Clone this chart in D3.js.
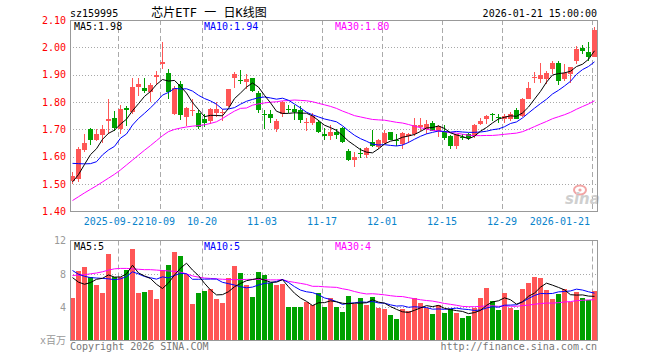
<!DOCTYPE html>
<html><head><meta charset="utf-8">
<script src="https://cdn.jsdelivr.net/npm/d3@7"></script>
<style>body{margin:0;background:#fff}svg{display:block}</style>
</head><body><svg id="c" width="660" height="360"></svg>
<script>
const dates = [
"2025-09-10","2025-09-11","2025-09-12","2025-09-15","2025-09-16","2025-09-17","2025-09-18","2025-09-19",
"2025-09-22","2025-09-23","2025-09-24","2025-09-25","2025-09-26","2025-09-29","2025-09-30",
"2025-10-09","2025-10-10","2025-10-13","2025-10-14","2025-10-15","2025-10-16","2025-10-17","2025-10-20","2025-10-21","2025-10-22","2025-10-23","2025-10-24","2025-10-27","2025-10-28","2025-10-29","2025-10-30","2025-10-31",
"2025-11-03","2025-11-04","2025-11-05","2025-11-06","2025-11-07","2025-11-10","2025-11-11","2025-11-12","2025-11-13","2025-11-14","2025-11-17","2025-11-18","2025-11-19","2025-11-20","2025-11-21","2025-11-24","2025-11-25","2025-11-26","2025-11-27","2025-11-28",
"2025-12-01","2025-12-02","2025-12-03","2025-12-04","2025-12-05","2025-12-08","2025-12-09","2025-12-10","2025-12-11","2025-12-12","2025-12-15","2025-12-16","2025-12-17","2025-12-18","2025-12-19","2025-12-22","2025-12-23","2025-12-24","2025-12-25","2025-12-26","2025-12-29","2025-12-30","2025-12-31",
"2026-01-05","2026-01-06","2026-01-07","2026-01-08","2026-01-09","2026-01-12","2026-01-13","2026-01-14","2026-01-15","2026-01-16","2026-01-19","2026-01-20","2026-01-21"];

const open  = [1.512,1.520,1.624,1.700,1.663,1.679,1.729,1.743,1.702,1.779,1.763,1.856,1.850,1.837,1.893,1.939,1.905,1.755,1.865,1.746,1.767,1.759,1.739,1.731,1.759,1.759,1.785,1.889,1.880,1.873,1.887,1.834,1.755,1.755,1.700,1.755,1.776,1.776,1.771,1.722,1.724,1.728,1.685,1.676,1.690,1.704,1.621,1.588,1.615,1.605,1.654,1.637,1.651,1.690,1.663,1.648,1.676,1.684,1.710,1.700,1.724,1.694,1.691,1.676,1.639,1.672,1.682,1.676,1.721,1.737,1.755,1.746,1.739,1.737,1.770,1.749,1.812,1.888,1.883,1.883,1.920,1.941,1.883,1.901,1.950,1.996,1.983,1.966];
const high  = [1.545,1.636,1.682,1.707,1.702,1.715,1.810,1.767,1.791,1.785,1.889,1.889,1.889,1.869,1.915,2.020,1.920,1.857,1.877,1.781,1.810,1.770,1.755,1.779,1.800,1.773,1.849,1.910,1.916,1.901,1.887,1.840,1.771,1.771,1.739,1.804,1.788,1.791,1.785,1.743,1.759,1.734,1.706,1.718,1.702,1.710,1.629,1.617,1.633,1.637,1.698,1.666,1.698,1.690,1.685,1.691,1.688,1.740,1.740,1.733,1.730,1.718,1.716,1.679,1.684,1.684,1.688,1.721,1.740,1.752,1.759,1.755,1.755,1.763,1.779,1.815,1.873,1.911,1.941,1.913,1.950,1.950,1.938,1.930,2.005,2.009,2.020,2.076];
const low   = [1.500,1.507,1.617,1.644,1.657,1.652,1.682,1.694,1.682,1.712,1.755,1.824,1.832,1.800,1.862,1.920,1.813,1.751,1.734,1.712,1.749,1.700,1.708,1.721,1.746,1.731,1.782,1.852,1.865,1.849,1.837,1.759,1.702,1.724,1.690,1.746,1.761,1.734,1.724,1.694,1.715,1.688,1.663,1.663,1.666,1.649,1.584,1.563,1.596,1.596,1.637,1.630,1.645,1.661,1.640,1.627,1.651,1.676,1.696,1.682,1.694,1.673,1.663,1.627,1.627,1.663,1.663,1.670,1.716,1.721,1.730,1.724,1.722,1.730,1.737,1.746,1.810,1.868,1.871,1.865,1.901,1.861,1.877,1.868,1.938,1.974,1.950,1.964];
const close = [1.528,1.627,1.649,1.661,1.682,1.700,1.737,1.706,1.773,1.771,1.855,1.865,1.840,1.862,1.899,1.946,1.837,1.852,1.751,1.779,1.771,1.710,1.722,1.776,1.776,1.765,1.846,1.901,1.877,1.885,1.840,1.770,1.751,1.740,1.731,1.800,1.771,1.763,1.734,1.728,1.749,1.690,1.676,1.690,1.678,1.654,1.588,1.599,1.611,1.633,1.641,1.661,1.688,1.663,1.657,1.688,1.684,1.716,1.718,1.721,1.696,1.712,1.670,1.639,1.682,1.668,1.670,1.718,1.730,1.749,1.751,1.743,1.749,1.757,1.739,1.813,1.852,1.893,1.899,1.907,1.944,1.877,1.907,1.928,1.993,1.987,1.966,2.063];
const volume = [5.16,8.4,8.88,7.6,6.68,5.76,10.4,7.6,7.68,8.48,11.0,5.76,5.84,6.08,5.04,8.48,9.08,10.64,10.16,8.0,4.4,5.76,6.0,6.16,5.04,4.56,7.52,8.96,8.16,6.68,5.28,8.28,7.88,6.88,6.68,6.8,4.0,4.0,4.0,4.68,4.28,5.68,4.08,5.08,4.08,3.44,5.36,4.44,5.12,4.28,5.24,3.96,3.8,3.08,2.6,3.8,3.56,5.08,4.52,3.96,3.2,4.28,3.32,3.8,3.32,2.72,2.96,3.96,5.12,6.32,4.76,3.68,5.72,3.96,3.68,6.2,6.96,7.64,7.52,6.08,5.0,5.6,6.16,4.64,5.84,5.12,4.88,6.0];

// moving-average values for the days whose window starts before the first visible day
const ma5Head  = [1.508,1.535,1.572,1.608];
const ma10Head = [1.576,1.575,1.574,1.575,1.582,1.607,1.625,1.638,1.668];
const ma30Head = [1.440,1.454,1.468,1.481,1.494,1.508,1.522,1.536,1.552,1.570,1.588,1.606,1.624,1.641,1.659,1.677,1.692,1.700,1.705,1.709,1.712,1.714,1.717,1.722,1.728,1.740,1.754,1.767,1.777];
const volMa5Head  = [7.55,7.0,6.75,6.95];
const volMa10Head = [8.4,7.95,7.7,7.55,7.5,7.45,7.4,7.3,7.4];
const volMa30Head = [7.8,7.85,7.9,8.0,8.1,8.25,8.45,8.6,8.65,8.65,8.6,8.55,8.5,8.5,8.45,8.4,8.35,8.3,8.2,8.0,7.75,7.6,7.5,7.45,7.4,7.35,7.32,7.3,7.3];

const priceTicks = [1.40,1.50,1.60,1.70,1.80,1.90,2.00,2.10];
const volTicks = [4,8,12];
const tickDates  = ["2025-09-22","2025-10-09","2025-10-20","2025-11-03","2025-11-17","2025-12-01","2025-12-15","2025-12-29","2026-01-21"];
const tickLabels = ["2025-09-22","10-09","10-20","11-03","11-17","12-01","12-15","12-29","2026-01-21"];

const RED = "#ff5656", GREEN = "#00a000";
const MONO = "'DejaVu Sans Mono', monospace";

function movingAvg(arr, n, head) {
  return arr.map((v, i) => i < n - 1 ? head[i] : d3.mean(arr.slice(i - n + 1, i + 1)));
}
const ma5 = movingAvg(close, 5, ma5Head), ma10 = movingAvg(close, 10, ma10Head), ma30 = movingAvg(close, 30, ma30Head);
const vma5 = movingAvg(volume, 5, volMa5Head), vma10 = movingAvg(volume, 10, volMa10Head), vma30 = movingAvg(volume, 30, volMa30Head);

const L = 70, R = 597, PT = 20, PB = 211.5, VT = 240.5, VB = 340.5;
const svg = d3.select("#c");
svg.append("rect").attr("width", 660).attr("height", 360).attr("fill", "#fff");

const idx = d3.range(dates.length);
const x = d3.scaleBand().domain(idx).range([L, L + 6 * dates.length]).padding(0);
const yP = d3.scaleLinear().domain([1.40, 2.10]).range([PB, PT]);
const yV = d3.scaleLinear().domain([0, 12]).range([VB, VT]);
const tickIdx = tickDates.map(d => dates.indexOf(d));

// grids
const g = svg.append("g");
g.selectAll(".hp").data(priceTicks.slice(1, -1)).join("line")
  .attr("x1", L).attr("x2", R).attr("y1", d => Math.round(yP(d)) + 0.5).attr("y2", d => Math.round(yP(d)) + 0.5)
  .attr("stroke", "#a8a8a8").attr("stroke-dasharray", "1,2");
g.selectAll(".hv").data(volTicks.slice(0, -1)).join("line")
  .attr("x1", L).attr("x2", R).attr("y1", d => Math.round(yV(d)) + 0.5).attr("y2", d => Math.round(yV(d)) + 0.5)
  .attr("stroke", "#a8a8a8").attr("stroke-dasharray", "1,2");
[[PT, PB], [VT, VB]].forEach(([a, b]) => {
  g.selectAll(null).data(tickIdx).join("line")
    .attr("x1", d => x(d) + 0.5).attr("x2", d => x(d) + 0.5).attr("y1", a).attr("y2", b)
    .attr("stroke", "#aaa").attr("stroke-dasharray", "5,3");
});

// watermark
const wm = svg.append("g");
wm.append("ellipse").attr("cx", 580).attr("cy", 190).attr("rx", 6).attr("ry", 4.5).attr("fill", "none").attr("stroke", "#f2a5a5").attr("stroke-width", 2);
wm.append("circle").attr("cx", 580).attr("cy", 190).attr("r", 1.6).attr("fill", "#f2a5a5");
wm.append("text").attr("x", 565).attr("y", 204).text("sina")
  .attr("font-family", "'DejaVu Sans', sans-serif").attr("font-style", "italic").attr("font-weight", "bold")
  .attr("font-size", 15).attr("fill", "#cfcfcf");

// candles
const up = i => close[i] >= open[i];
const cg = svg.append("g").attr("shape-rendering", "crispEdges");
cg.selectAll(".wick").data(idx).join("rect")
  .attr("x", i => x(i) + 2).attr("width", 1)
  .attr("y", i => yP(high[i])).attr("height", i => Math.max(1, yP(low[i]) - yP(high[i])))
  .attr("fill", i => up(i) ? RED : GREEN);
cg.selectAll(".body").data(idx).join("rect")
  .attr("x", i => x(i)).attr("width", 5)
  .attr("y", i => yP(Math.max(open[i], close[i])))
  .attr("height", i => Math.max(1, Math.abs(yP(open[i]) - yP(close[i]))))
  .attr("fill", i => up(i) ? RED : GREEN);

// volume bars
cg.selectAll(".vol").data(idx).join("rect")
  .attr("x", i => x(i)).attr("width", 5)
  .attr("y", i => yV(volume[i])).attr("height", i => yV(0) - yV(volume[i]))
  .attr("fill", i => up(i) ? RED : GREEN);

// MA lines
function drawLine(vals, ys, color) {
  svg.append("path").datum(idx)
    .attr("d", d3.line().x(i => x(i) + 2.5).y(i => ys(vals[i])))
    .attr("fill", "none").attr("stroke", color).attr("stroke-width", 1);
}
drawLine(ma30, yP, "#ff00ff"); drawLine(ma10, yP, "#0000ff"); drawLine(ma5, yP, "#000");
drawLine(vma30, yV, "#ff00ff"); drawLine(vma10, yV, "#0000ff"); drawLine(vma5, yV, "#000");

// frames
svg.append("rect").attr("x", L + 0.5).attr("y", PT + 0.5).attr("width", R - L).attr("height", PB - PT - 0.5)
  .attr("fill", "none").attr("stroke", "#999");
svg.append("rect").attr("x", L + 0.5).attr("y", VT).attr("width", R - L).attr("height", VB - VT)
  .attr("fill", "none").attr("stroke", "#999");

// axes
const ay = svg.append("g").attr("transform", `translate(${L},0)`)
  .call(d3.axisLeft(yP).tickValues(priceTicks).tickFormat(d3.format(".2f")).tickSize(0).tickPadding(4));
ay.select(".domain").remove();
ay.selectAll("text").attr("fill", "#ff0000").attr("font-family", MONO).attr("font-size", 10);
const av = svg.append("g").attr("transform", `translate(${L},0)`)
  .call(d3.axisLeft(yV).tickValues(volTicks).tickFormat(d3.format("d")).tickSize(0).tickPadding(4));
av.select(".domain").remove();
av.selectAll("text").attr("fill", "#999").attr("font-family", MONO).attr("font-size", 10);

// date labels: centred on their grid line, kept inside the frame and clear of the next label
const xl = svg.append("g").selectAll("text").data(tickIdx).join("text")
  .attr("y", 225).text((d, k) => tickLabels[k])
  .attr("fill", "#0a84cc").attr("font-family", MONO).attr("font-size", 10).attr("text-anchor", "start");
const widths = xl.nodes().map(n => n.getComputedTextLength());
const lefts = tickIdx.map((d, k) => x(d) - widths[k] / 2);
for (let k = lefts.length - 1; k >= 0; k--) {
  const maxRight = k === lefts.length - 1 ? R - 7 : lefts[k + 1] - 1;
  if (lefts[k] + widths[k] > maxRight) lefts[k] = maxRight - widths[k];
}
xl.attr("x", (d, k) => lefts[k]);

// texts
const fl = v => (Math.floor(v * 100 + 1e-9) / 100).toFixed(2);
const last = dates.length - 1;
function txt(xp, yp, s, color, anchor, size, fam) {
  svg.append("text").attr("x", xp).attr("y", yp).text(s).attr("fill", color)
    .attr("text-anchor", anchor || "start").attr("font-size", size || 10).attr("font-family", fam || MONO);
}
txt(70, 16.5, "sz159995", "#000");
txt(209, 16.5, "芯片ETF 一 日K线图", "#000", "middle", 12, "'DejaVu Sans Mono','Noto Sans CJK SC',sans-serif");
txt(597, 16.5, "2026-01-21 15:00:00", "#000", "end");
txt(74, 29.5, "MA5:" + fl(ma5[last]), "#000");
txt(204, 29.5, "MA10:" + fl(ma10[last]), "#0000ff");
txt(335, 29.5, "MA30:" + fl(ma30[last]), "#ff00ff");
txt(74, 250, "MA5:" + Math.floor(vma5[last]), "#000");
txt(204, 250, "MA10:" + Math.floor(vma10[last]), "#0000ff");
txt(335, 250, "MA30:" + Math.floor(vma30[last]), "#ff00ff");
txt(66, 343.5, "x百万", "#999", "end", 10, "'DejaVu Sans Mono','Noto Sans CJK SC',sans-serif");
txt(70, 349.5, "Copyright 2026 SINA.COM", "#777");
txt(597, 349.5, "http://finance.sina.com.cn", "#777", "end");
</script>
</body></html>
